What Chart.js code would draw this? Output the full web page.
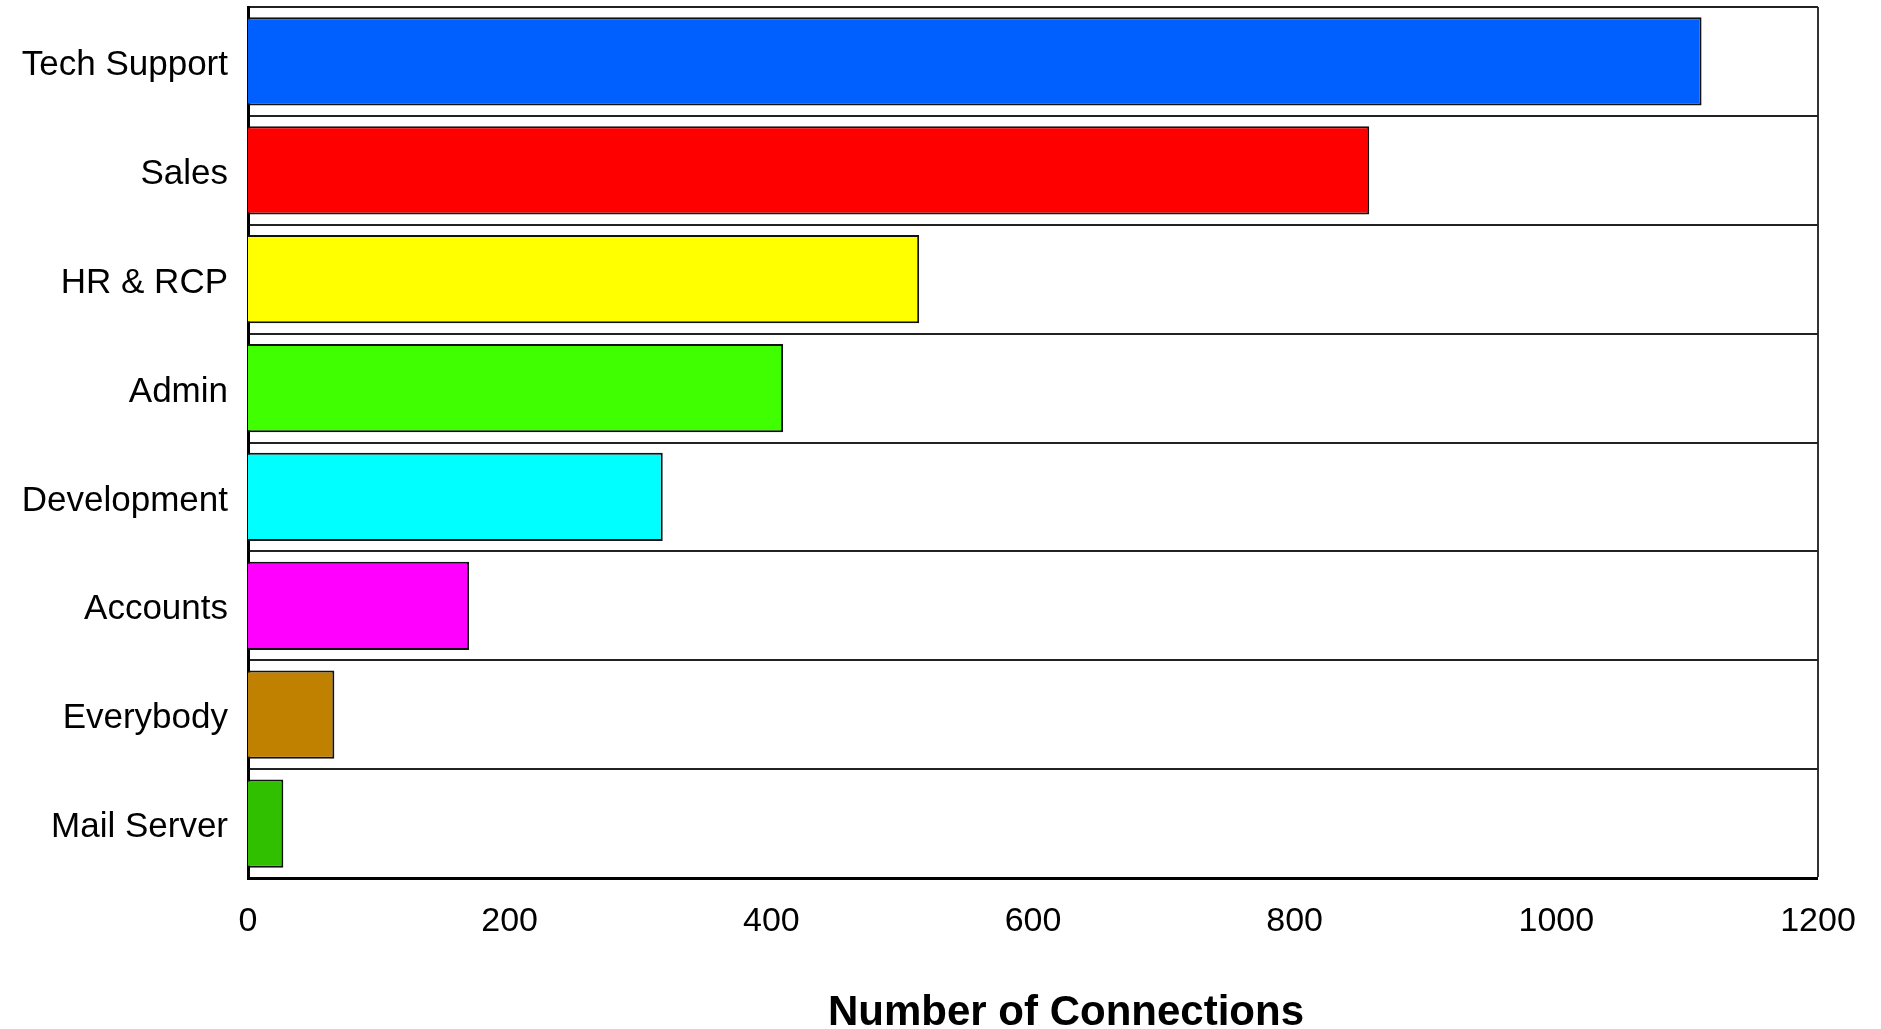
<!DOCTYPE html>
<html>
<head>
<meta charset="utf-8">
<script src="https://cdn.jsdelivr.net/npm/chart.js@4.4.1/dist/chart.umd.min.js"></script>
<style>
  html, body { margin: 0; padding: 0; background: #ffffff; }
  #wrap { width: 1881px; height: 1029px; position: relative; }
</style>
</head>
<body>
<div id="wrap"><canvas id="c"></canvas></div>
<script>
const categories = ['Tech Support', 'Sales', 'HR & RCP', 'Admin', 'Development', 'Accounts', 'Everybody', 'Mail Server'];
const connections = [1111, 857, 513, 409, 317, 169, 66, 27];
const xAxisTitle = 'Number of Connections';
const xMin = 0, xMax = 1200, xStep = 200;

const barColors = ['#0060ff', '#ff0000', '#ffff00', '#40ff00', '#00ffff', '#ff00ff', '#c08000', '#30c000'];

const axisTitlePlugin = {
  id: 'axisTitleDraw',
  afterDraw(chart) {
    const ctx = chart.ctx;
    const a = chart.chartArea;
    ctx.save();
    ctx.fillStyle = '#000';
    ctx.font = 'bold 42px "Liberation Sans", Arial, sans-serif';
    ctx.textAlign = 'center';
    ctx.textBaseline = 'middle';
    ctx.fillText(xAxisTitle, (a.left + a.right) / 2 + 33, a.bottom + 135);
    ctx.restore();
  }
};

new Chart(document.getElementById('c'), {
  type: 'bar',
  data: {
    labels: categories,
    datasets: [{
      data: connections,
      backgroundColor: barColors,
      borderColor: '#111',
      borderWidth: 2,
      borderSkipped: 'start',
      categoryPercentage: 1.0,
      barPercentage: 0.81
    }]
  },
  options: {
    indexAxis: 'y',
    responsive: true,
    maintainAspectRatio: false,
    animation: false,
    devicePixelRatio: 1,
    layout: { padding: { top: 7, right: 63, left: 0, bottom: 0 } },
    plugins: {
      legend: { display: false },
      tooltip: { enabled: false },
      title: { display: false }
    },
    scales: {
      x: {
        type: 'linear',
        min: xMin,
        max: xMax,
        ticks: {
          stepSize: xStep,
          padding: 23,
          color: '#000',
          font: { family: '"Liberation Sans", Arial, sans-serif', size: 34 },
          maxRotation: 0,
          callback: (v) => String(v)
        },
        grid: {
          drawTicks: false,
          lineWidth: (c) => (c.tick && c.tick.value === xMax ? 2 : 0),
          color: '#333'
        },
        border: { display: true, color: '#000', width: 3 },
        afterFit(scale) {
          scale.height = 151;
          scale.paddingLeft = 0;
          scale.paddingRight = 0;
        }
      },
      y: {
        ticks: {
          padding: 20,
          labelOffset: 4,
          color: '#000',
          font: { family: '"Liberation Sans", Arial, sans-serif', size: 35 }
        },
        grid: {
          offset: true,
          drawTicks: false,
          lineWidth: 2,
          color: '#222'
        },
        border: { display: true, color: '#000', width: 3 },
        afterFit(scale) {
          scale.width = 248;
          scale.paddingTop = 0;
          scale.paddingBottom = 0;
        }
      }
    }
  },
  plugins: [axisTitlePlugin]
});
</script>
</body>
</html>
